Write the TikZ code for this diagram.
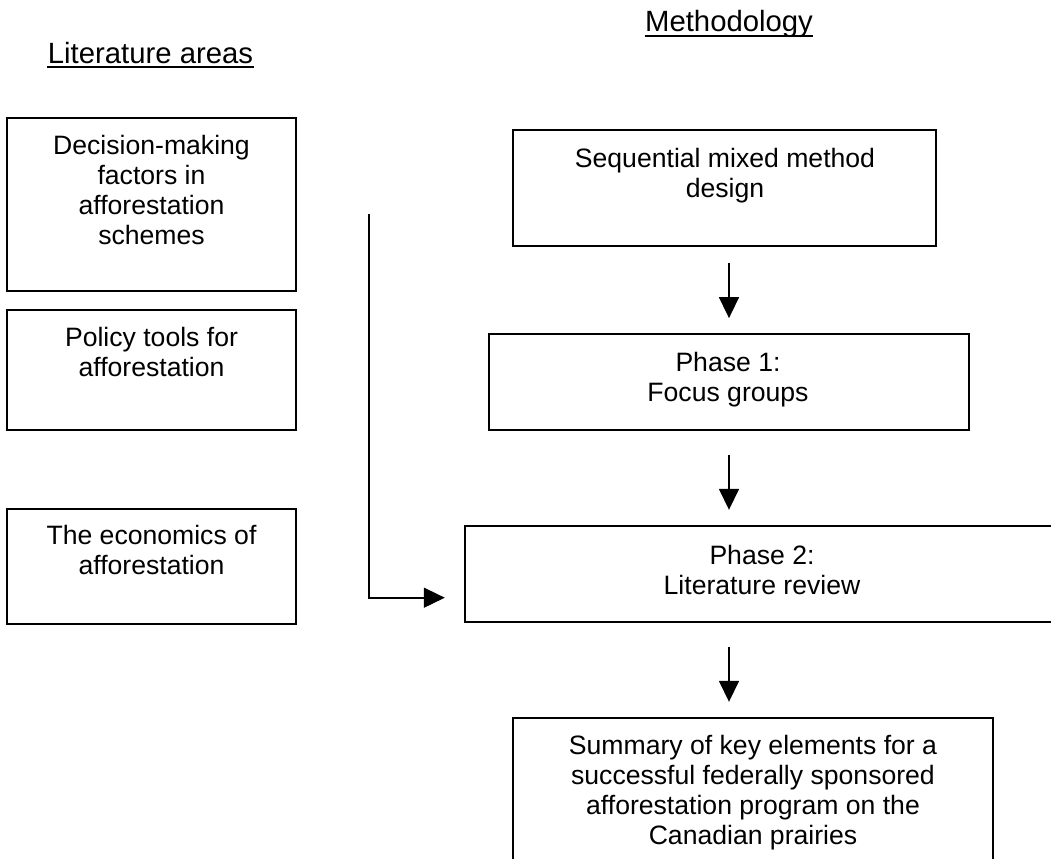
\documentclass[tikz,border=0pt]{standalone}
\usepackage{fontspec}
\setmainfont{Liberation Sans}
\usetikzlibrary{arrows.meta,calc}
\begin{document}
\begin{tikzpicture}[x=0.5pt,y=-0.5pt,
  box/.style={draw=black,line width=0.9pt,rectangle,inner sep=0pt},
  txt/.style={anchor=north,inner sep=0pt,align=center,font=\fontsize{13.3pt}{15pt}\selectfont},
  title/.style={anchor=base,inner sep=0pt,font=\fontsize{14.65pt}{17pt}\selectfont},
  arr/.style={line width=0.8pt,-{Triangle[length=10.5pt,width=10pt]}}]
\useasboundingbox (0,0) rectangle (1051,858);
\fill[white] (0,0) rectangle (1051,858);
\clip (0,0) rectangle (1051,858);
% titles
\node[title] (lit) at (150.5,63) {Literature areas};
\draw[line width=1pt] ([yshift=-2pt]lit.base west) -- ([yshift=-2pt]lit.base east);
\node[title] (meth) at (729,31.5) {Methodology};
\draw[line width=1pt] ([yshift=-2pt]meth.base west) -- ([yshift=-2pt]meth.base east);
% literature boxes
\node[box,minimum width=144.5pt,minimum height=86.5pt] (dm) at (151.5,204.5) {};
\node[txt] (dmt) at (151.5,135) {Decision-making\\factors in\\afforestation\\schemes};
\node[box,minimum width=144.5pt,minimum height=60pt] (pol) at (151.5,370) {};
\node[txt] (polt) at (151.5,326.7) {Policy tools for\\afforestation};
\node[box,minimum width=144.5pt,minimum height=57.5pt] (eco) at (151.5,566.5) {};
\node[txt] (ecot) at (151.5,525) {The economics of\\afforestation};
% methodology boxes
\node[box,minimum width=211.5pt,minimum height=58pt] (seq) at (724.5,188) {};
\node[txt] (seqt) at (725,148) {Sequential mixed method\\design};
\node[box,minimum width=240pt,minimum height=48pt] (p1) at (729,382) {};
\node[txt] (p1t) at (728,351.7) {Phase 1:\\Focus groups};
\node[box,minimum width=297pt,minimum height=48pt] (p2) at (762,573.7) {};
\node[txt] (p2t) at (762,545) {Phase 2:\\Literature review};
\node[box,minimum width=240pt,minimum height=91pt] (sum) at (753,809) {};
\node[txt] (sumt) at (753,735) {Summary of key elements for a\\successful federally sponsored\\afforestation program on the\\Canadian prairies};
% connectors
\draw[arr] ($(seq.south -| p1.north)+(0,16)$) -- ($(p1.north)+(0,-15)$);
\draw[arr] ($(p1.south)+(0,24)$) -- ($(p2.north -| p1.south)+(0,-15)$);
\draw[arr] ($(p2.south -| p1.south)+(0,24.3)$) -- ($(sum.north -| p1.south)+(0,-15.3)$);
\coordinate (lstart) at (368.7,214);
\draw[arr] (lstart) |- ($(p2.west)+(-19.3,24)$);
\end{tikzpicture}
\end{document}
